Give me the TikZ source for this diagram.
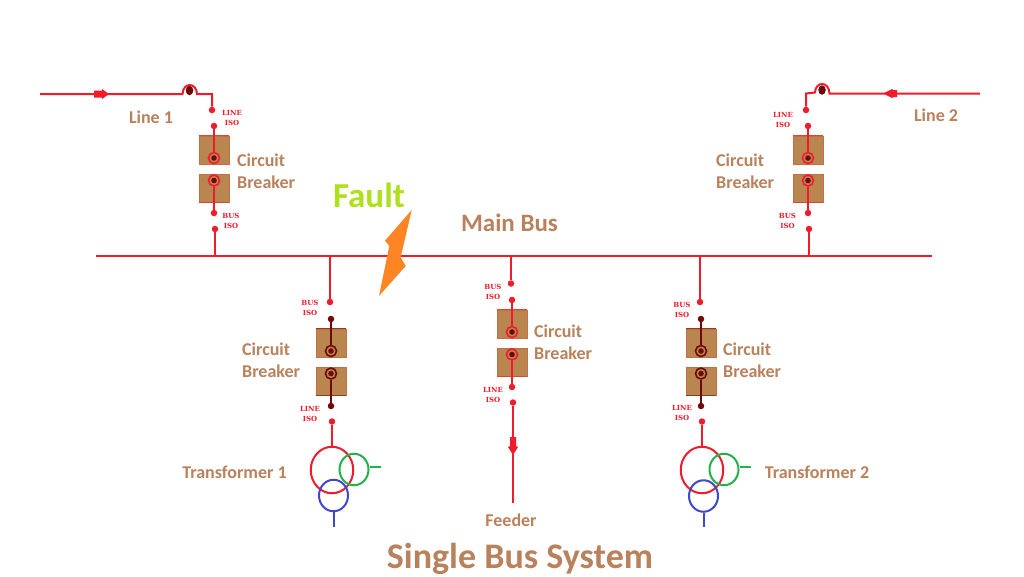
\documentclass[tikz,border=0pt]{standalone}
\usepackage{fontspec}
\usetikzlibrary{shapes.geometric}
\setmainfont{Carlito}
\newfontfamily\slabfont{DejaVu Serif}
\definecolor{wire}{HTML}{F01C2C}
\definecolor{deep}{HTML}{6E0A0A}
\definecolor{boxfill}{HTML}{B98650}
\definecolor{labeltext}{HTML}{B9825C}
\definecolor{faultgreen}{HTML}{AEE01E}
\definecolor{boltorange}{HTML}{FF8424}
\definecolor{tgreen}{HTML}{22B14C}
\definecolor{tblue}{HTML}{3F48CC}
\tikzset{
  x=1pt,y=-1pt,
  wireline/.style={draw=wire,line width=2pt},
  dotnode/.style={circle,fill=wire,inner sep=0pt,minimum size=6.5pt},
  cbbox/.style={rectangle,draw=wire!25!boxfill,line width=.6pt,fill=boxfill,inner sep=0pt,minimum width=30pt,minimum height=28pt},
  pivot/.style={circle,draw=wire,line width=1.6pt,fill=boxfill,inner sep=0pt,minimum size=11pt},
  txtlabel/.style={text=labeltext,font=\fontsize{18}{22}\selectfont\bfseries,inner sep=0pt},
  iso/.style={text=wire,font=\fontsize{7}{10}\selectfont\slabfont\bfseries,inner sep=0pt,align=center},
  coil/.style={ellipse,draw,line width=2pt,inner sep=0pt},
  bigcoil/.style={coil,draw=wire,minimum width=42.5pt,minimum height=46.5pt},
  smallcoil/.style={coil,minimum width=29pt,minimum height=31.5pt},
}
% name, x, top of upper box, line colour
\newcommand{\cbunit}[4]{%
  \node[cbbox] (#1b1) at (#2,#3+14) {};
  \node[cbbox] (#1b2) at (#2,#3+52) {};
  \draw[#4!60!boxfill,line width=.9pt] (#1b1.north west) -- (#1b1.north east);
  \draw[#4!60!boxfill,line width=.9pt] (#1b2.south west) -- (#1b2.south east);
  \node[dotnode,fill=#4] (#1t) at (#2,#3-10) {};
  \node[dotnode,fill=#4] (#1u) at (#2,#3+77) {};
  \node[pivot,draw=#4] (#1p) at (#2,#3+22) {};
  \node[pivot,draw=#4] (#1q) at (#2,#3+44.5) {};
  \draw[wireline,draw=#4] (#1t) -- (#1p);
  \draw[wireline,draw=#4] (#1q) -- (#1u);
  \fill[deep] (#1p.center) circle[radius=2.8pt];
  \fill[deep] (#1q.center) circle[radius=2.8pt];
}
\begin{document}
\begin{tikzpicture}
\useasboundingbox (0,0) rectangle (1024,576);
\fill[white] (0,0) rectangle (1024,576);

% main bus
\coordinate (busL) at (96,255.5);
\coordinate (busR) at (932,255.5);
\draw[wireline] (busL) -- (busR);

% breaker units
\cbunit{a}{214}{136}{wire}
\cbunit{b}{808}{136}{wire}
\cbunit{c}{331}{329}{deep}
\cbunit{d}{512}{310}{wire}
\cbunit{e}{701}{329}{deep}

% isolator fixed contacts
\node[dotnode] (a1) at (212,110) {};
\node[dotnode] (a2) at (215,229) {};
\node[dotnode] (b1) at (806,110) {};
\node[dotnode] (b2) at (809,229) {};
\node[dotnode] (c1) at (330,302) {};
\node[dotnode] (c2) at (332,421.5) {};
\node[dotnode] (d1) at (511,283.5) {};
\node[dotnode] (d2) at (513,402.5) {};
\node[dotnode] (e1) at (700,302) {};
\node[dotnode] (e2) at (702,421.5) {};

% bus tap-offs
\draw[wireline] (a2) -- (a2|-busL);
\draw[wireline] (b2) -- (b2|-busL);
\draw[wireline] (c1) -- (c1|-busL);
\draw[wireline] (d1) -- (d1|-busL);
\draw[wireline] (e1) -- (e1|-busL);

% line 1
\coordinate (l1s) at (40,94);
\coordinate (l1b) at (182.5,94);
\coordinate (l1c) at (212,94);
\draw[wireline,line join=miter] (l1s) -- (l1b) .. controls (183,82) and (196.5,82) .. (197,94) -- (l1c) -- (a1);
\fill[wire] (94,90.5) -- (102,90.5) -- (102,89) -- (109,94) -- (102,99) -- (102,97.5) -- (94,97.5) -- cycle;
\node[ellipse,fill=deep,inner sep=0pt,minimum width=7.5pt,minimum height=9.5pt] (m1) at (189.5,90.5) {};

% line 2
\coordinate (l2s) at (980,93.5);
\coordinate (l2b) at (829.5,93.5);
\coordinate (l2c) at (806,93.5);
\draw[wireline,line join=miter] (l2s) -- (l2b) .. controls (829,81) and (815.5,81) .. (815,92.5) -- (l2c) -- (b1);
\fill[wire] (897,90) -- (893,90) -- (892,89) -- (883,93.5) -- (892,98) -- (893,97) -- (897,97) -- cycle;
\node[ellipse,fill=deep,inner sep=0pt,minimum width=7.5pt,minimum height=9.5pt] (m2) at (822,90) {};

% feeder
\coordinate (fe) at (513,503);
\draw[wireline] (d2) -- (fe);
\fill[wire] (510,437) -- (516,437) -- (516,446) -- (518,447) -- (513,455) -- (508,447) -- (510,446) -- cycle;

% transformer 1
\node[bigcoil] (t1r) at (332,470) {};
\node[smallcoil,draw=tgreen] (t1g) at (354,469.5) {};
\node[smallcoil,draw=tblue] (t1b) at (333.5,495.5) {};
\coordinate (t1gx) at (381,467);
\coordinate (t1bx) at (334,527);
\draw[wireline] (c2) -- (t1r.north);
\draw[draw=tgreen,line width=1.8pt] (t1g.east|-t1gx) -- (t1gx);
\draw[draw=tblue,line width=2pt] (t1bx|-t1b.south) -- (t1bx);

% transformer 2
\node[bigcoil] (t2r) at (702,470) {};
\node[smallcoil,draw=tgreen] (t2g) at (724,469.5) {};
\node[smallcoil,draw=tblue] (t2b) at (703.5,496) {};
\coordinate (t2gx) at (751,467);
\coordinate (t2bx) at (704,527);
\draw[wireline] (e2) -- (t2r.north);
\draw[draw=tgreen,line width=1.8pt] (t2g.east|-t2gx) -- (t2gx);
\draw[draw=tblue,line width=2pt] (t2bx|-t2b.south) -- (t2bx);

% fault bolt
\fill[boltorange] (411.7,210) -- (385,240.7) -- (389.3,246) -- (379,296) -- (405.7,266) -- (400.7,257.3) -- cycle;

% isolator labels
\node[iso] (i1) at (232,117.5) {LINE\\ISO};
\node[iso] (i2) at (231,220.5) {BUS\\ISO};
\node[iso] (i3) at (783,119.5) {LINE\\ISO};
\node[iso] (i4) at (787.5,220.5) {BUS\\ISO};
\node[iso] (i5) at (310,307.5) {BUS\\ISO};
\node[iso] (i6) at (310,413.5) {LINE\\ISO};
\node[iso] (i7) at (493,292) {BUS\\ISO};
\node[iso] (i8) at (493,394.5) {LINE\\ISO};
\node[iso] (i9) at (682,309.5) {BUS\\ISO};
\node[iso] (i10) at (682,413) {LINE\\ISO};

% text labels
\node[txtlabel] (nl1) at (151,117.5) {Line 1};
\node[txtlabel] (nl2) at (936,115.5) {Line 2};
\node[txtlabel,align=left,anchor=west] (cb1) at (237,171.5) {Circuit\\Breaker};
\node[txtlabel,align=left,anchor=west] (cb2) at (716,171.5) {Circuit\\Breaker};
\node[txtlabel,align=left,anchor=west] (cb3) at (242,360.5) {Circuit\\Breaker};
\node[txtlabel,align=left,anchor=west] (cb4) at (534,342.5) {Circuit\\Breaker};
\node[txtlabel,align=left,anchor=west] (cb5) at (723,360.5) {Circuit\\Breaker};
\node[txtlabel] (tr1) at (234.5,472.5) {Transformer 1};
\node[txtlabel] (tr2) at (817,472.5) {Transformer 2};
\node[txtlabel] (fd) at (511,520) {Feeder};
\node[txtlabel,font=\fontsize{25}{28}\selectfont\bfseries] (mb) at (509.5,223) {Main Bus};
\node[txtlabel,text=faultgreen,font=\fontsize{35}{38}\selectfont\bfseries] (fl) at (369,195) {Fault};
\node[txtlabel,font=\fontsize{36}{40}\selectfont\bfseries] (ttl) at (520,558.5) {Single Bus System};
\end{tikzpicture}
\end{document}
